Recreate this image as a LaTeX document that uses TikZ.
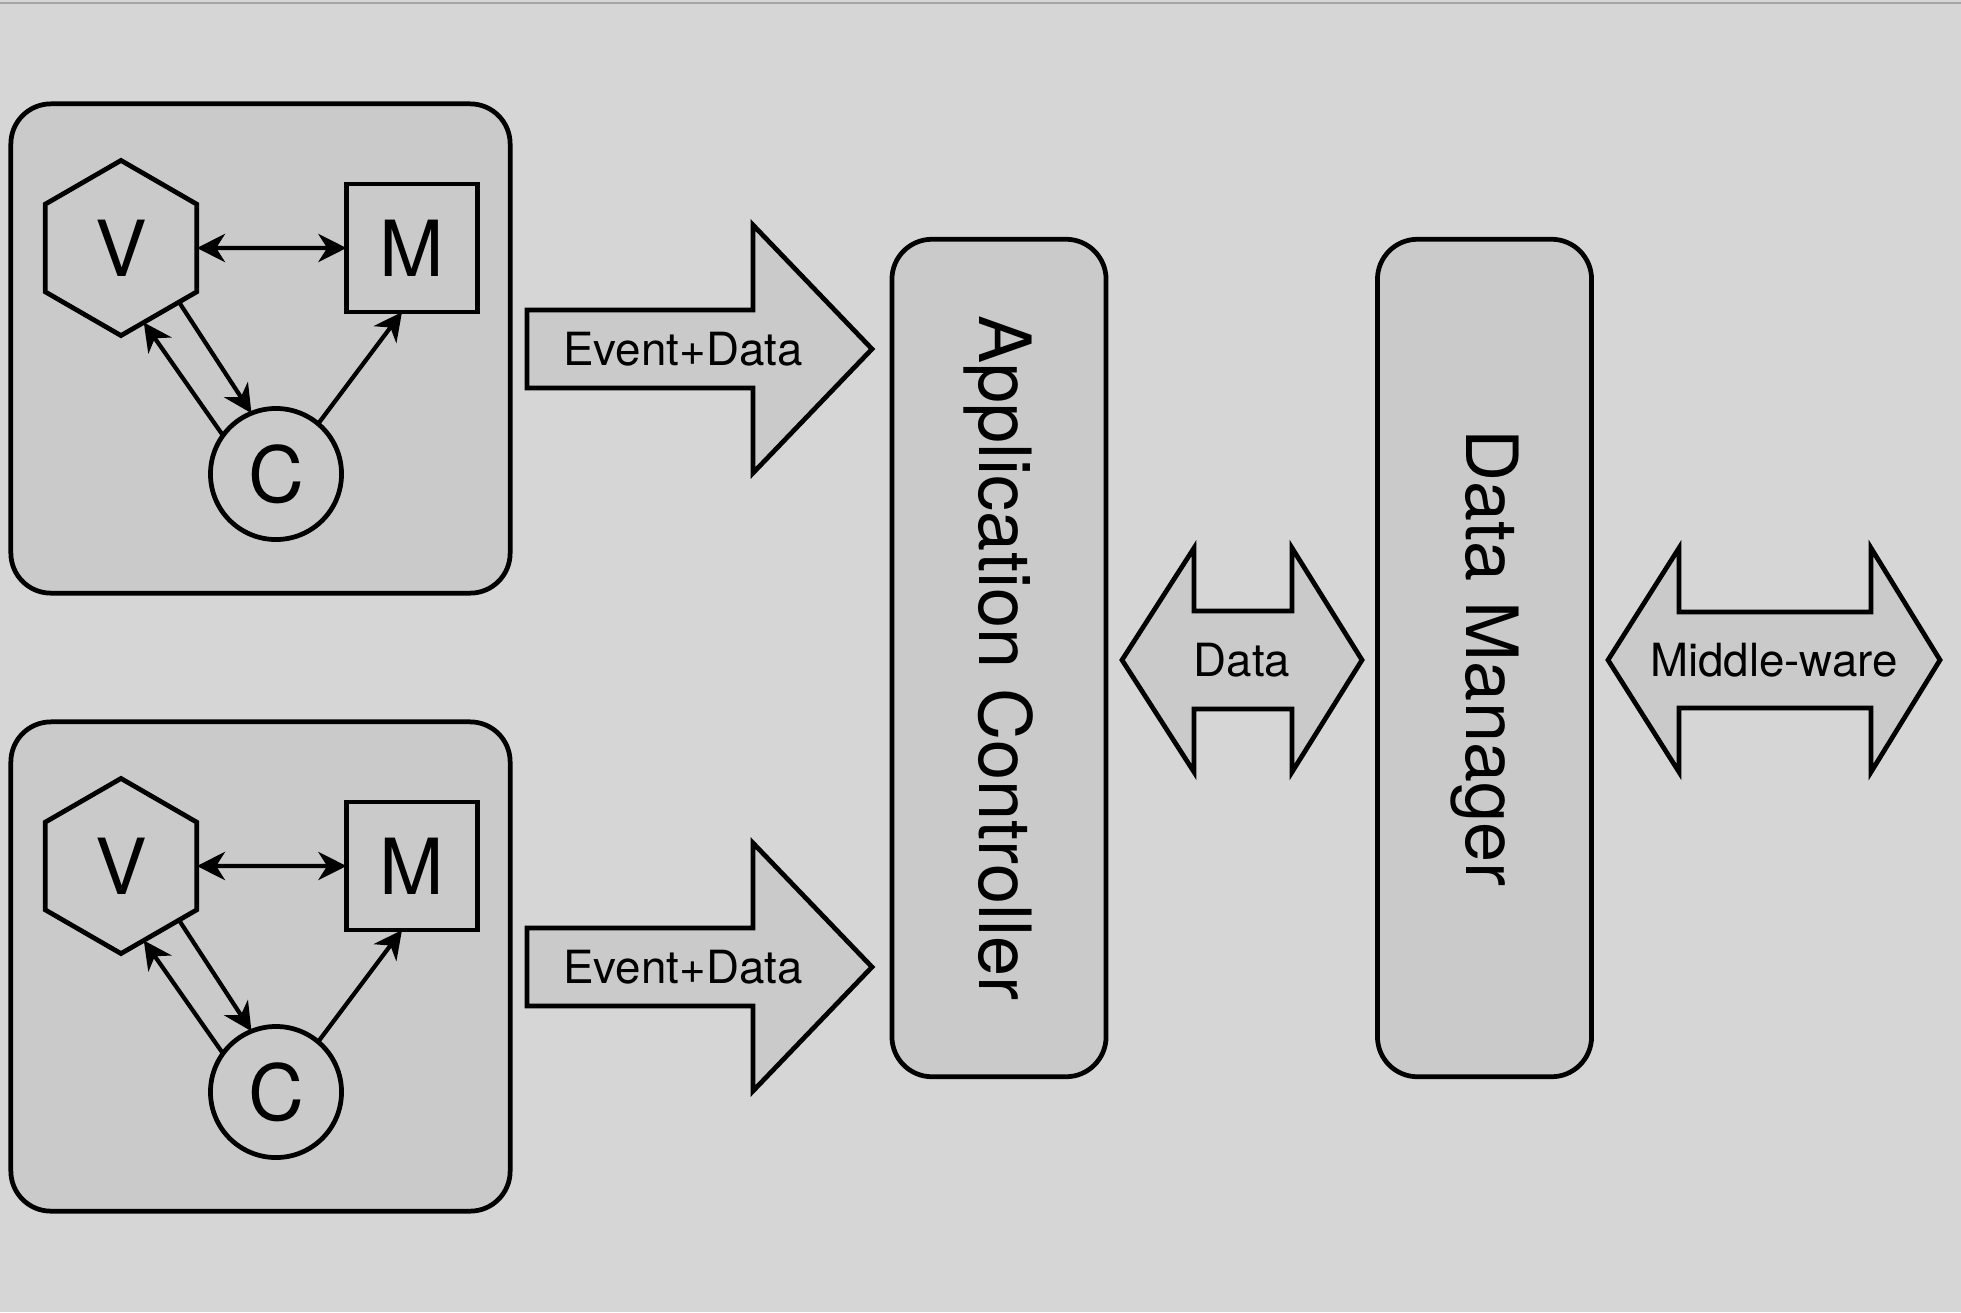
\documentclass[tikz,border=0pt]{standalone}
\usepackage{fontspec}
\setmainfont{TeX Gyre Heros}
\usetikzlibrary{shapes.geometric,arrows.meta}
\definecolor{bg}{HTML}{D6D6D6}
\definecolor{boxfill}{HTML}{CACACA}
\newcommand\bigfont{\fontsize{20.5}{24}\selectfont}
\newcommand\vmcfont{\fontsize{22}{26}\selectfont}
\newcommand\smallfont{\fontsize{13}{16}\selectfont}
\tikzset{
  line/.style={line width=1.35pt},
  panel/.style={line,draw,fill=boxfill,rounded corners=0.4cm,minimum width=4.99cm,minimum height=4.89cm},
  hexa/.style={line,draw,regular polygon,regular polygon sides=6,regular polygon rotate=30,minimum size=1.75cm,inner sep=0pt,outer sep=0pt,font=\vmcfont},
  sq/.style={line,draw,minimum width=1.31cm,minimum height=1.28cm,inner sep=0pt,outer sep=0pt,font=\vmcfont},
  circ/.style={line,draw,circle,minimum size=1.31cm,inner sep=0pt,outer sep=0pt,font=\vmcfont},
  bigbox/.style={line,draw,fill=boxfill,rounded corners=0.4cm,rotate=-90,minimum height=2.14cm,minimum width=8.37cm,font=\bigfont},
  blockarrow/.style={line,draw,fill=boxfill,miter limit=20},
  lbl/.style={font=\smallfont,inner sep=0pt},
  conn/.style={line width=1.2pt,-{Stealth[length=8pt,width=8pt,inset=2.5pt]}},
  dconn/.style={line width=1.2pt,{Stealth[length=8pt,width=8pt,inset=2.5pt]}-{Stealth[length=8pt,width=8pt,inset=2.5pt]}}
}
% one MVC panel with its Event+Data arrow, #1 = name suffix, #2 = y shift
\def\mvc#1#2{
\begin{scope}[shift={(0,#2)}]
  \node[panel] (P#1) at (260.5,348.5) {};
  \node[hexa] (V#1) at (121,248) {V};
  \node[sq] (M#1) at (412,248) {M};
  \node[circ] (C#1) at (276,474) {C};
  \draw[dconn] (V#1.east) -- (M#1.west);
  \draw[conn] (V#1.-43) -- (C#1.112);
  \draw[conn] (C#1.144) -- (V#1.-73);
  \draw[conn] (C#1.50) -- ([xshift=-0.1cm]M#1.south);
  \draw[blockarrow] (527,310) -- (753,310) -- (753,225) -- (872,349) -- (753,473) -- (753,388) -- (527,388) -- cycle;
  \node[lbl] (ev#1) at (683,349) {Event+Data};
\end{scope}}

\begin{document}
\begin{tikzpicture}[x=0.01cm,y=-0.01cm]
  \fill[bg] (0,0) rectangle (1961,1312);
  \useasboundingbox (0,0) rectangle (1961,1312);
  \draw[gray!70,line width=0.6pt] (0,3) -- (1961,3);
  \mvc{1}{0}
  \mvc{2}{618}
  \node[bigbox] (ac) at (999,658) {Application Controller};
  \node[bigbox] (dm) at (1484.5,658) {Data Manager};
  \draw[blockarrow] (1122,660) -- (1194,548) -- (1194,611) -- (1292,611) -- (1292,548) -- (1362,660) -- (1292,772) -- (1292,709) -- (1194,709) -- (1194,772) -- cycle;
  \node[lbl] (data) at (1242,660) {Data};
  \draw[blockarrow] (1608,660) -- (1679,548) -- (1679,612) -- (1871,612) -- (1871,548) -- (1940,660) -- (1871,772) -- (1871,708) -- (1679,708) -- (1679,772) -- cycle;
  \node[lbl] (mw) at (1774,660) {Middle-ware};
\end{tikzpicture}
\end{document}
